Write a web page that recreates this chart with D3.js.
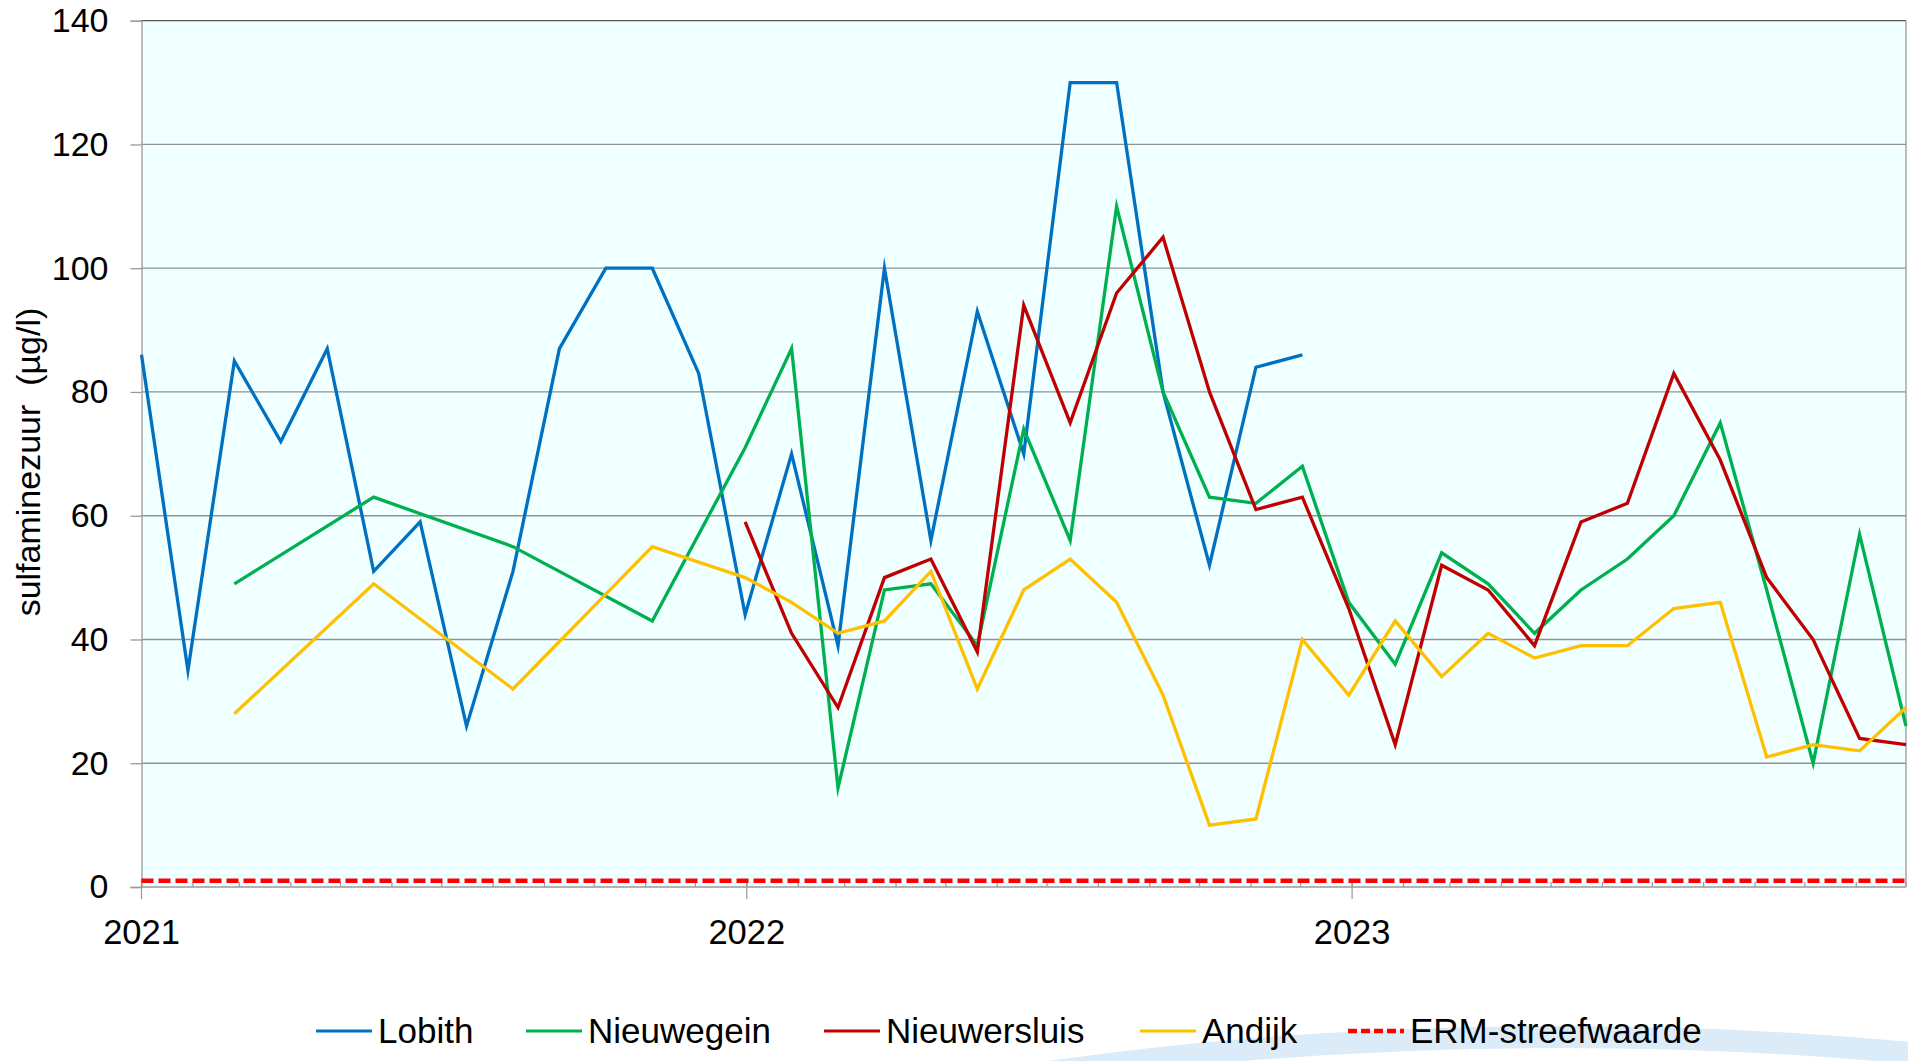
<!DOCTYPE html>
<meta charset="utf-8">
<style>
body{
	margin:0;
	background:#fff;
	font-family:"Liberation Sans",Arial,sans-serif;
}
svg text{
	fill:#000;
}
</style>
<script src="https://cdn.jsdelivr.net/npm/d3@7/dist/d3.min.js"></script>
<div id="chart"></div>

<script>

// sample dates (every 4 weeks)
var dates = ["2021-01-01","2021-01-29","2021-02-26","2021-03-26","2021-04-23","2021-05-21","2021-06-18","2021-07-16","2021-08-13","2021-09-10","2021-10-08","2021-11-05","2021-12-03",
	"2021-12-31","2022-01-28","2022-02-25","2022-03-25","2022-04-22","2022-05-20","2022-06-17","2022-07-15","2022-08-12","2022-09-09","2022-10-07","2022-11-04","2022-12-02",
	"2022-12-30","2023-01-27","2023-02-24","2023-03-24","2023-04-21","2023-05-19","2023-06-16","2023-07-14","2023-08-11","2023-09-08","2023-10-06","2023-11-03","2023-12-01"]

var lobith = [86,35,85,72,87,51,59,26,51,87,100,100,83,44,70,39,100,56,93,70,130,130,80,52,84,86,
	null,null,null,null,null,null,null,null,null,null,null,null,null]
var nieuwegein = [null,null,49,null,null,63,null,null,55,null,null,43,null,71,87,16,48,49,39,74,56,110,80,63,62,68,
	46,36,54,49,41,48,53,60,75,48,20,57,26]
var nieuwersluis = [null,null,null,null,null,null,null,null,null,null,null,null,null,59,41,29,50,53,38,94,75,96,105,80,61,63,
	45,23,52,48,39,59,62,83,69,50,40,24,23]
var andijk = [null,null,28,null,null,49,null,null,32,null,null,55,null,50,46,41,43,51,32,48,53,46,31,10,11,40,
	31,43,34,41,37,39,39,45,46,21,23,22,29]
var ermStreefwaarde = 1

var seriesNames = ["Lobith","Nieuwegein","Nieuwersluis","Andijk"]
var seriesColors = ["#0070C0","#00B050","#C00000","#FFC000"]
var yTicks = [0,20,40,60,80,100,120,140]
var yearTicks = ["2021-01-01","2022-01-01","2023-01-01"]
var yTitle = "sulfaminezuur\u00a0\u00a0(µg/l)"

var W = 1908, H = 1061
var plotL = 141.5, plotR = 1906, plotT = 20.7, plotB = 887
var parse = d3.timeParse("%Y-%m-%d")

var svg = d3.select("#chart").append("svg").attr("width",W).attr("height",H)

// faint logo arc in the background
svg.append("ellipse")
	.attr("cx",1560).attr("cy",1405).attr("rx",1200).attr("ry",368)
	.attr("fill","none").attr("stroke","#dcebf8").attr("stroke-width",22)

var x = d3.scaleTime().domain([parse("2021-01-01"),parse("2023-12-01")]).range([plotL,plotR])
var y = d3.scaleLinear().domain([0,140]).range([plotB,plotT])

svg.append("rect").attr("x",plotL).attr("y",plotT).attr("width",plotR-plotL).attr("height",plotB-plotT)
	.attr("fill","#F0FFFF")

// gridlines
svg.append("g").selectAll("line").data(yTicks.slice(1)).enter().append("line")
	.attr("x1",plotL).attr("x2",plotR)
	.attr("y1",function(d){return y(d)}).attr("y2",function(d){return y(d)})
	.attr("stroke",function(d){return d==140 ? "#555" : "#929292"}).attr("stroke-width",1.3)

// y axis
var yAxis = svg.append("g").attr("transform","translate("+plotL+",0)")
	.call(d3.axisLeft(y).tickValues(yTicks).tickSize(11).tickPadding(22).tickFormat(d3.format("d")))
yAxis.select(".domain").attr("stroke","#9a9a9a").attr("stroke-width",1.3)
yAxis.selectAll(".tick line").attr("stroke","#9a9a9a").attr("stroke-width",1.3)
yAxis.selectAll("text").attr("font-size",34).attr("font-family","Liberation Sans, Arial").attr("fill","#000")

// right border
svg.append("line").attr("x1",plotR).attr("x2",plotR).attr("y1",plotT).attr("y2",plotB)
	.attr("stroke","#9a9a9a").attr("stroke-width",1.3)

// x axis: monthly minor ticks inside, yearly major ticks crossing
var xg = svg.append("g")
xg.append("line").attr("x1",plotL).attr("x2",plotR).attr("y1",plotB).attr("y2",plotB)
	.attr("stroke","#9a9a9a").attr("stroke-width",1.3)
xg.selectAll(".minor").data(d3.timeMonth.range(parse("2021-01-01"),parse("2023-12-02"))).enter().append("line")
	.attr("x1",function(d){return x(d)}).attr("x2",function(d){return x(d)})
	.attr("y1",plotB-5).attr("y2",plotB)
	.attr("stroke","#9a9a9a").attr("stroke-width",1.2)
xg.selectAll(".major").data(yearTicks).enter().append("line")
	.attr("x1",function(d){return x(parse(d))}).attr("x2",function(d){return x(parse(d))})
	.attr("y1",plotB-8).attr("y2",plotB+12)
	.attr("stroke","#9a9a9a").attr("stroke-width",1.2)
xg.selectAll("text").data(yearTicks).enter().append("text")
	.attr("x",function(d){return x(parse(d))}).attr("y",944)
	.attr("text-anchor","middle").attr("font-size",34.5)
	.text(function(d){return d.slice(0,4)})

// y title
svg.append("text").attr("transform","translate(40,462) rotate(-90)")
	.attr("text-anchor","middle").attr("font-size",34).text(yTitle)

// ERM line
svg.append("line").attr("x1",plotL).attr("x2",plotR)
	.attr("y1",y(ermStreefwaarde)).attr("y2",y(ermStreefwaarde))
	.attr("stroke","#FF0000").attr("stroke-width",4.5).attr("stroke-dasharray","12,5")

// series
var line = d3.line().x(function(d){return x(d.date)}).y(function(d){return y(d.v)})
var allSeries = [lobith,nieuwegein,nieuwersluis,andijk]
allSeries.forEach(function(vals,k){
	var pts = []
	for (var i = 0; i < vals.length; i++) {
		if (vals[i] != null) pts.push({date:parse(dates[i]),v:vals[i]})
	}
	svg.append("path").datum(pts).attr("d",line)
		.attr("fill","none").attr("stroke",seriesColors[k]).attr("stroke-width",3.3)
		.attr("stroke-linejoin","miter").attr("stroke-miterlimit",10)
})

// legend
var legendItems = [
	{name:seriesNames[0],color:seriesColors[0],x:316,dash:null},
	{name:seriesNames[1],color:seriesColors[1],x:526,dash:null},
	{name:seriesNames[2],color:seriesColors[2],x:824,dash:null},
	{name:seriesNames[3],color:seriesColors[3],x:1140,dash:null},
	{name:"ERM-streefwaarde",color:"#FF0000",x:1348,dash:"9,4"}
]
var lg = svg.append("g")
legendItems.forEach(function(it){
	lg.append("line").attr("x1",it.x).attr("x2",it.x+56).attr("y1",1031).attr("y2",1031)
		.attr("stroke",it.color).attr("stroke-width",it.dash ? 4.5 : 3.2)
		.attr("stroke-dasharray",it.dash)
	lg.append("text").attr("x",it.x+62).attr("y",1043).attr("font-size",35).text(it.name)
})

</script>
